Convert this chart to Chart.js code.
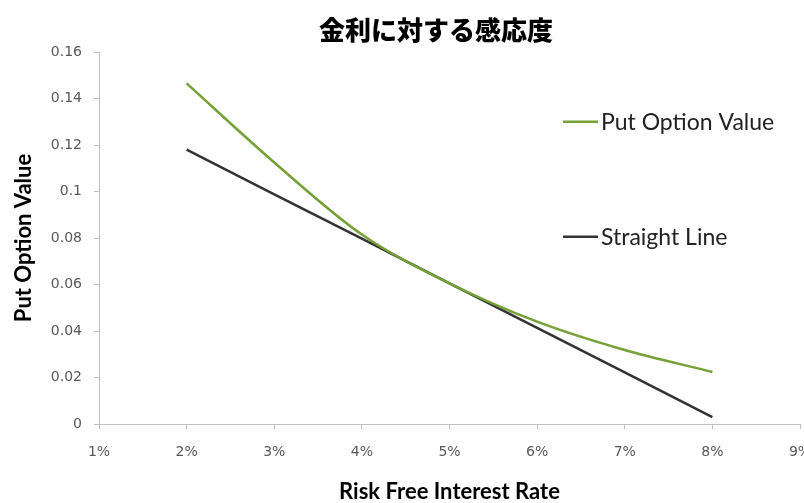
<!DOCTYPE html>
<html>
<head>
<meta charset="utf-8">
<script src="https://cdn.jsdelivr.net/npm/chart.js@4"></script>
<style>
  body { margin: 0; background: #fff; }
  #wrap { width: 804px; height: 503px; }
</style>
</head>
<body>
<div id="wrap"><canvas id="canvas"></canvas></div>
<script>
// interest rate (%) vs. put value
const rates = [2, 3, 4, 5, 6, 7, 8];
const putValues = [0.1465, 0.1125, 0.0815, 0.0605, 0.044, 0.0318, 0.0224];
const lineValues = [0.118, 0.0988, 0.0797, 0.0605, 0.0413, 0.0222, 0.003];
const seriesNames = ['Put Option Value', 'Straight Line'];
const seriesColors = ['#74a036', '#333333'];
const chartTitle = '金利に対する感応度';

const toPoints = vals => rates.map((r, i) => ({ x: r, y: vals[i] }));

// title is drawn a bit left of the plot centre
const titleDraw = {
  id: 'titleDraw',
  afterDraw(chart) {
    const ctx = chart.ctx;
    ctx.save();
    ctx.font = '900 26px "Noto Sans CJK JP"';
    ctx.fillStyle = '#000';
    ctx.textAlign = 'center';
    ctx.textBaseline = 'middle';
    ctx.fillText(chartTitle, 436, 30);
    ctx.restore();
  }
};

// legend entries sit inside the plot, next to the lines
const legendInside = {
  id: 'legendInside',
  afterDraw(chart) {
    const ctx = chart.ctx;
    const rows = [0.13, 0.0805];
    ctx.save();
    ctx.font = '23px Lato, "Open Sans", sans-serif';
    ctx.textBaseline = 'middle';
    seriesNames.forEach((name, i) => {
      const y = chart.scales.y.getPixelForValue(rows[i]);
      ctx.strokeStyle = seriesColors[i];
      ctx.lineWidth = 2.5;
      ctx.beginPath();
      ctx.moveTo(563, y);
      ctx.lineTo(598, y);
      ctx.stroke();
      ctx.fillStyle = '#222';
      ctx.fillText(name, 601, y + 1);
    });
    ctx.restore();
  }
};

const axisGray = '#bfbfbf';
const tickFont = { family: '"DejaVu Sans"', size: 14 };
const axisTitleFont = { family: 'Lato, "Open Sans", sans-serif', size: 22, weight: 'bold', lineHeight: 1 };

new Chart(document.getElementById('canvas'), {
  type: 'line',
  data: {
    datasets: [
      {
        label: seriesNames[0],
        data: toPoints(putValues),
        borderColor: seriesColors[0],
        borderWidth: 2.5,
        pointRadius: 0,
        cubicInterpolationMode: 'monotone'
      },
      {
        label: seriesNames[1],
        data: toPoints(lineValues),
        borderColor: seriesColors[1],
        borderWidth: 2.5,
        pointRadius: 0,
        tension: 0
      }
    ]
  },
  options: {
    responsive: true,
    maintainAspectRatio: false,
    animation: false,
    layout: { padding: { left: 0, right: 4, top: 52, bottom: 0 } },
    plugins: {
      legend: { display: false },
      tooltip: { enabled: false },
      title: { display: false }
    },
    scales: {
      x: {
        type: 'linear',
        min: 1,
        max: 9,
        ticks: {
          stepSize: 1,
          color: '#595959',
          font: tickFont,
          padding: 15,
          maxRotation: 0,
          callback: v => v + '%'
        },
        grid: { drawOnChartArea: false, drawTicks: true, tickLength: 5, color: axisGray },
        border: { color: axisGray },
        title: {
          display: true,
          text: 'Risk Free Interest Rate',
          color: '#000',
          font: axisTitleFont,
          padding: { top: 10, bottom: 0 }
        },
        afterFit(scale) {
          scale.height = 79;
          scale.paddingRight = 0;
        }
      },
      y: {
        min: 0,
        max: 0.16,
        ticks: {
          stepSize: 0.02,
          color: '#595959',
          font: tickFont,
          padding: 12,
          callback: v => String(Number(v.toFixed(2)))
        },
        grid: { drawOnChartArea: false, drawTicks: true, tickLength: 5, color: axisGray },
        border: { color: axisGray },
        title: {
          display: true,
          text: 'Put Option Value',
          color: '#000',
          font: axisTitleFont,
          padding: { top: 13, bottom: 10 }
        },
        afterFit(scale) {
          scale.width = 99;
        }
      }
    }
  },
  plugins: [titleDraw, legendInside]
});
</script>
</body>
</html>
